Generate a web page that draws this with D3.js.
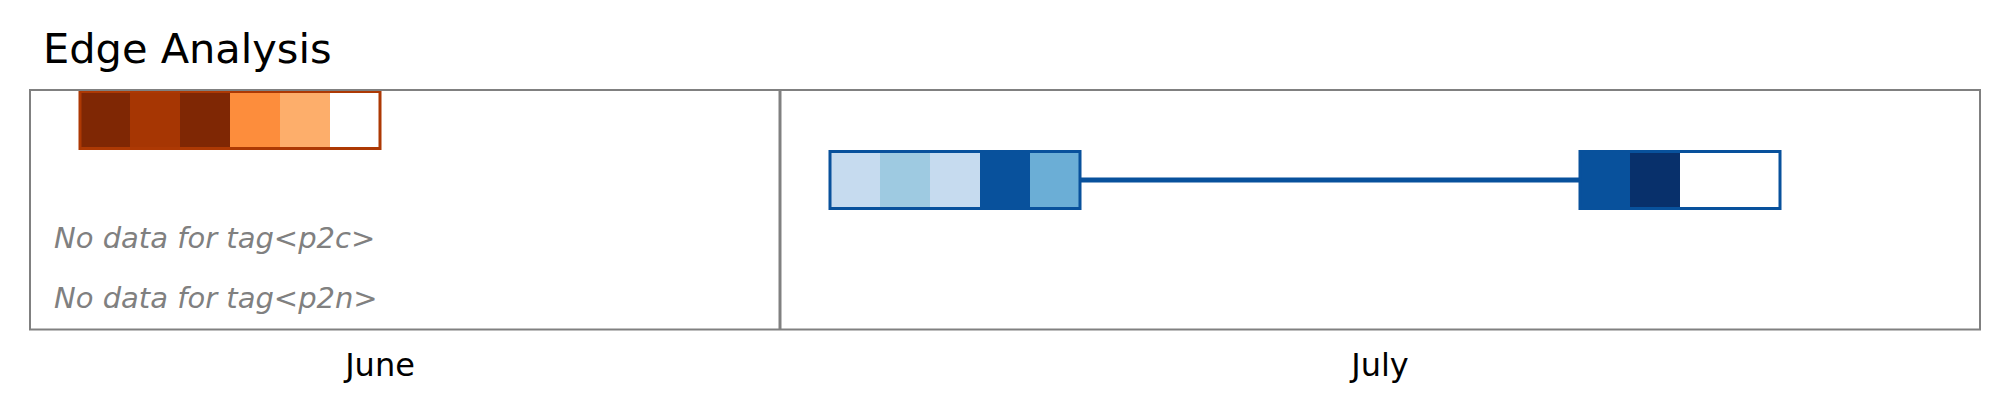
<!DOCTYPE html>
<html>
<head>
<meta charset="utf-8">
<script src="https://cdn.jsdelivr.net/npm/d3@7"></script>
<style>
  html, body { margin: 0; padding: 0; background: #fff; }
  svg { display: block; font-family: "DejaVu Sans", sans-serif; }
</style>
</head>
<body>
<svg id="chart" width="2009" height="414"></svg>
<script>
// ---------- data ----------
const title = "Edge Analysis";
const domainDates = ["2024-06-16", "2024-07-25"];
const months = ["June", "July"];
const monthStarts = ["2024-06-15", "2024-07-01"];
const monthEnds = ["2024-07-01", "2024-07-25"];
const tags = ["p2a", "p2b", "p2c", "p2n"];
const noDataTags = ["p2c", "p2n"];

// segment runs: tag, start date, daily levels (null = empty day)
const segTags = ["p2a", "p2b", "p2b"];
const segStarts = ["2024-06-17", "2024-07-02", "2024-07-17"];
const segLevels = [
  [8, 7, 8, 4, 3, null],
  [2, 3, 2, 7, 4],
  [7, 8, null, null]
];
const segScheme = ["orange", "blue", "blue"];
// connections between consecutive runs on same tag
const links = [[1, 2]];

// ---------- layout ----------
const W = 2009, H = 414;
const mLeft = 30, mRight = 1980, mTop = 90, mBottom = 329.5;
const svg = d3.select("#chart");
const parse = d3.utcParse("%Y-%m-%d");
const DAY = 24 * 3600 * 1000;

const x = d3.scaleUtc().domain(domainDates.map(parse)).range([mLeft, mRight]);
const y = d3.scaleBand().domain(tags).range([mTop, 330]).paddingInner(0);
const palettes = {
  orange: { colors: d3.schemeOranges[9], stroke: "#ad3904" },
  blue: { colors: d3.schemeBlues[9], stroke: "#08519c" }
};

// title
svg.append("text").attr("x", 43).attr("y", 63)
  .attr("font-size", 41.5).attr("fill", "#000").text(title);

// links (under boxes)
links.forEach(([a, b]) => {
  const sa = parse(segStarts[a]), sb = parse(segStarts[b]);
  const endA = new Date(+sa + segLevels[a].length * DAY);
  const cy = y(segTags[a]) + y.bandwidth() / 2;
  svg.append("line")
    .attr("x1", x(endA)).attr("x2", x(sb))
    .attr("y1", cy).attr("y2", cy)
    .attr("stroke", palettes[segScheme[a]].stroke).attr("stroke-width", 5);
});

// boxes
const pad = 1.5;
segLevels.forEach((levels, i) => {
  const pal = palettes[segScheme[i]];
  const s = parse(segStarts[i]);
  const y0 = y(segTags[i]) + pad, h = y.bandwidth() - 2 * pad;
  const g = svg.append("g");
  g.selectAll("rect.cell").data(levels).join("rect")
    .attr("class", "cell")
    .attr("x", (d, k) => x(new Date(+s + k * DAY)))
    .attr("width", (d, k) => x(new Date(+s + (k + 1) * DAY)) - x(new Date(+s + k * DAY)))
    .attr("y", y0).attr("height", h)
    .attr("fill", d => d == null ? "#ffffff" : pal.colors[d]);
  const e = new Date(+s + levels.length * DAY);
  g.append("rect")
    .attr("x", x(s)).attr("width", x(e) - x(s))
    .attr("y", y0).attr("height", h)
    .attr("fill", "none").attr("stroke", pal.stroke).attr("stroke-width", 3);
});

// no data messages
noDataTags.forEach(t => {
  svg.append("text")
    .attr("x", 54).attr("y", y(t) + y.bandwidth() / 2 + 8)
    .attr("font-size", 29).attr("font-style", "italic")
    .attr("fill", "#808080").text(`No data for tag<${t}>`);
});

// frame and month divider
svg.append("rect").attr("x", mLeft).attr("y", mTop)
  .attr("width", mRight - mLeft).attr("height", mBottom - mTop)
  .attr("fill", "none").attr("stroke", "#808080").attr("stroke-width", 2);
monthStarts.slice(1).forEach(m => {
  svg.append("line").attr("x1", x(parse(m))).attr("x2", x(parse(m)))
    .attr("y1", mTop).attr("y2", mBottom)
    .attr("stroke", "#808080").attr("stroke-width", 3);
});

// month labels
months.forEach((m, i) => {
  const cx = (x(parse(monthStarts[i])) + x(parse(monthEnds[i]))) / 2;
  svg.append("text").attr("x", cx).attr("y", 376)
    .attr("text-anchor", "middle").attr("font-size", 32)
    .attr("fill", "#000").text(m);
});
</script>
</body>
</html>
